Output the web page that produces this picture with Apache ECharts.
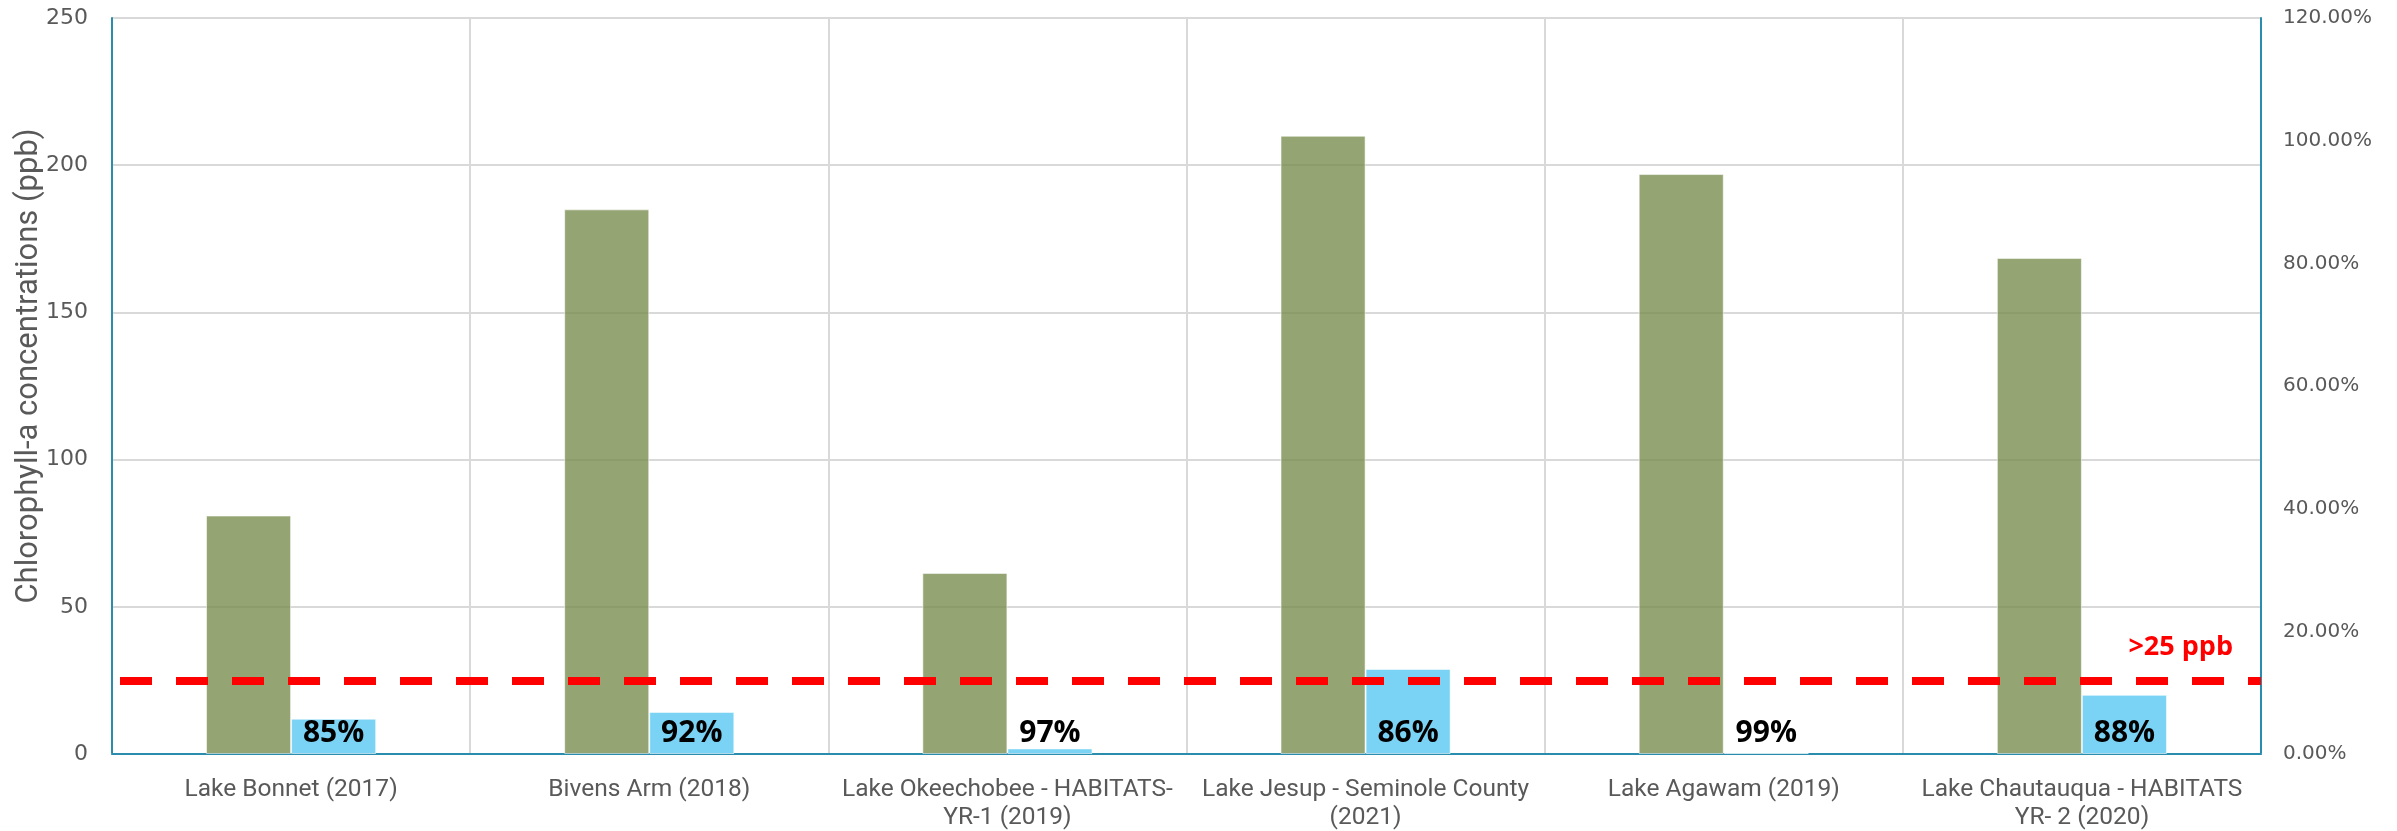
<!DOCTYPE html>
<html>
<head>
<meta charset="utf-8">
<script src="https://cdn.jsdelivr.net/npm/echarts@6/dist/echarts.min.js"></script>
<style>
  html, body { margin: 0; padding: 0; background: #fff; }
  #chart { width: 2397px; height: 831px; }
</style>
</head>
<body>
<div id="chart"></div>
<script>
// Lakes treated, with long names wrapped over two lines
const categories = [
  'Lake Bonnet (2017)',
  'Bivens Arm (2018)',
  'Lake Okeechobee - HABITATS-\nYR-1 (2019)',
  'Lake Jesup - Seminole County\n(2021)',
  'Lake Agawam (2019)',
  'Lake Chautauqua - HABITATS\nYR- 2 (2020)'
];
// Chlorophyll-a (ppb) before and after treatment
const beforeValues = [81, 185, 61.5, 210, 197, 168.5];
const afterValues = [12, 14.3, 1.9, 28.9, 0.4, 20.1];
// Percent reduction labels drawn on the post-treatment bars
const reductionLabels = ['85%', '92%', '97%', '86%', '99%', '88%'];
// Bloom threshold
const threshold = 25;
const thresholdLabel = '>25 ppb';
// Axis ticks
const leftTicks = { min: 0, max: 250, interval: 50 };
const rightTicks = { min: 0, max: 1.2, interval: 0.2 };

const GRAY_TEXT = '#595959';
const GRID_GRAY = '#D9D9D9';
const FRAME = '#2A8DAE';

const chart = echarts.init(document.getElementById('chart'), null, { renderer: 'canvas' });

chart.setOption({
  animation: false,
  grid: {
    left: 112, right: 136, top: 18, bottom: 77,
    containLabel: false,
    outerBoundsMode: 'none',
    show: false
  },
  xAxis: [
    {
      type: 'category',
      data: categories,
      axisTick: { show: false },
      axisLine: { show: true, lineStyle: { color: GRID_GRAY, width: 2 } },
      splitLine: { show: true, lineStyle: { color: GRID_GRAY, width: 2 } },
      axisLabel: {
        color: GRAY_TEXT, fontFamily: 'Roboto', fontSize: 24.5, lineHeight: 28,
        margin: 22, interval: 0
      }
    },
    {
      // frame line along the top of the plot area
      type: 'category',
      position: 'top',
      data: categories,
      axisTick: { show: false },
      axisLabel: { show: false },
      splitLine: { show: false },
      axisLine: { show: true, lineStyle: { color: FRAME, width: 2 } }
    }
  ],
  yAxis: [
    {
      type: 'value',
      min: leftTicks.min, max: leftTicks.max, interval: leftTicks.interval,
      name: 'Chlorophyll-a concentrations (ppb)',
      nameLocation: 'middle',
      nameGap: 67,
      nameMoveOverlap: false,
      nameTextStyle: {
        color: GRAY_TEXT, fontFamily: 'Roboto', fontSize: 31,
        padding: [0, 0, 0, 40]
      },
      axisLine: { show: true, lineStyle: { color: FRAME, width: 2 } },
      axisTick: { show: false },
      splitLine: { show: true, lineStyle: { color: GRID_GRAY, width: 2 } },
      axisLabel: { color: GRAY_TEXT, fontFamily: 'DejaVu Sans', fontSize: 22, margin: 24 }
    },
    {
      type: 'value',
      position: 'right',
      min: rightTicks.min, max: rightTicks.max, interval: rightTicks.interval,
      axisLine: { show: true, lineStyle: { color: FRAME, width: 2 } },
      axisTick: { show: false },
      splitLine: { show: false },
      axisLabel: {
        color: GRAY_TEXT, fontFamily: 'DejaVu Sans', fontSize: 20, margin: 22,
        formatter: v => (v * 100).toFixed(2) + '%'
      }
    }
  ],
  series: [
    {
      name: 'Before',
      type: 'bar',
      yAxisIndex: 0,
      data: beforeValues,
      barGap: '0%',
      barCategoryGap: '52.5%',
      itemStyle: {
        color: 'rgba(118,138,76,0.78)',
        borderColor: 'rgba(255,255,255,0.55)',
        borderWidth: 1
      }
    },
    {
      name: 'After',
      type: 'bar',
      yAxisIndex: 0,
      data: afterValues,
      barGap: '0%',
      barCategoryGap: '52.5%',
      itemStyle: {
        color: '#7AD3F4',
        borderColor: 'rgba(255,255,255,0.55)',
        borderWidth: 1
      },
      label: {
        show: true,
        position: 'insideBottom',
        distance: 6,
        color: '#000',
        fontFamily: 'Open Sans',
        fontWeight: 'bold',
        fontSize: 30,
        formatter: p => reductionLabels[p.dataIndex]
      },
      markLine: {
        silent: true,
        symbol: ['none', 'none'],
        data: [{ yAxis: threshold }],
        lineStyle: {
          color: '#FF0000',
          width: 8,
          type: [32, 24],
          dashOffset: 48,
          cap: 'butt'
        },
        label: {
          show: true,
          position: 'insideEndTop',
          distance: [28, 20],
          formatter: thresholdLabel,
          color: '#FF0000',
          fontFamily: 'Open Sans',
          fontWeight: 'bold',
          fontSize: 27
        }
      }
    }
  ]
});
</script>
</body>
</html>
